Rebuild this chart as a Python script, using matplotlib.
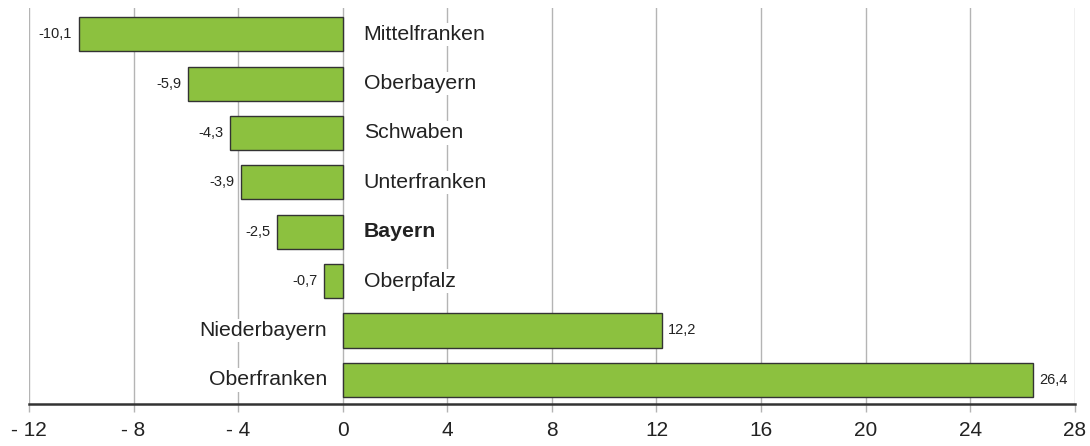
import matplotlib
matplotlib.use("Agg")
import matplotlib.pyplot as plt

# Veränderung in Prozent, Regierungsbezirke
regions = ["Oberfranken", "Niederbayern", "Oberpfalz", "Bayern",
           "Unterfranken", "Schwaben", "Oberbayern", "Mittelfranken"]
values = [26.4, 12.2, -0.7, -2.5, -3.9, -4.3, -5.9, -10.1]
ticks = [-12, -8, -4, 0, 4, 8, 12, 16, 20, 24, 28]
tick_labels = ["- 12", "- 8", "- 4", "0", "4", "8", "12", "16", "20", "24", "28"]

plt.rcParams['font.family'] = ['Liberation Sans', 'DejaVu Sans']

fig = plt.figure(figsize=(10.9, 4.46), dpi=100)
ax = fig.add_axes([0.0266, 0.094, 0.9594, 0.888])

ypos = list(range(len(regions)))
ax.barh(ypos, values, height=0.69, color="#8cc13f", edgecolor="#333333",
        linewidth=1.0, zorder=3)

for y, v, name in zip(ypos, values, regions):
    txt = ("%.1f" % v).replace(".", ",")
    weight = "bold" if name == "Bayern" else "normal"
    if v < 0:
        ax.text(v - 0.25, y, txt, ha="right", va="center", fontsize=10.5,
                color="#222222", zorder=4)
        ax.text(0.8, y, name, ha="left", va="center", fontsize=15.3,
                fontweight=weight, color="#222222", zorder=4,
                bbox=dict(facecolor="white", edgecolor="none", pad=1.5))
    else:
        ax.text(v + 0.25, y, txt, ha="left", va="center", fontsize=10.5,
                color="#222222", zorder=4)
        ax.text(-0.6, y, name, ha="right", va="center", fontsize=15.3,
                fontweight=weight, color="#222222", zorder=4,
                bbox=dict(facecolor="white", edgecolor="none", pad=1.5))

ax.set_xlim(-12, 28)
ax.set_ylim(-0.49, 7.53)
ax.set_xticks(ticks)
ax.set_xticklabels(tick_labels, fontsize=15, color="#222222")
ax.set_yticks([])
ax.grid(axis="x", color="#b4b4b4", linewidth=1.0, zorder=0)
ax.set_axisbelow(True)
for s in ["left", "right", "top"]:
    ax.spines[s].set_visible(False)
ax.spines["bottom"].set_color("#333333")
ax.spines["bottom"].set_linewidth(1.8)
ax.spines["bottom"].set_zorder(5)
ax.tick_params(axis="x", length=6, width=1.0, color="#b4b4b4", pad=6)

fig.savefig("out.png", dpi=100)
